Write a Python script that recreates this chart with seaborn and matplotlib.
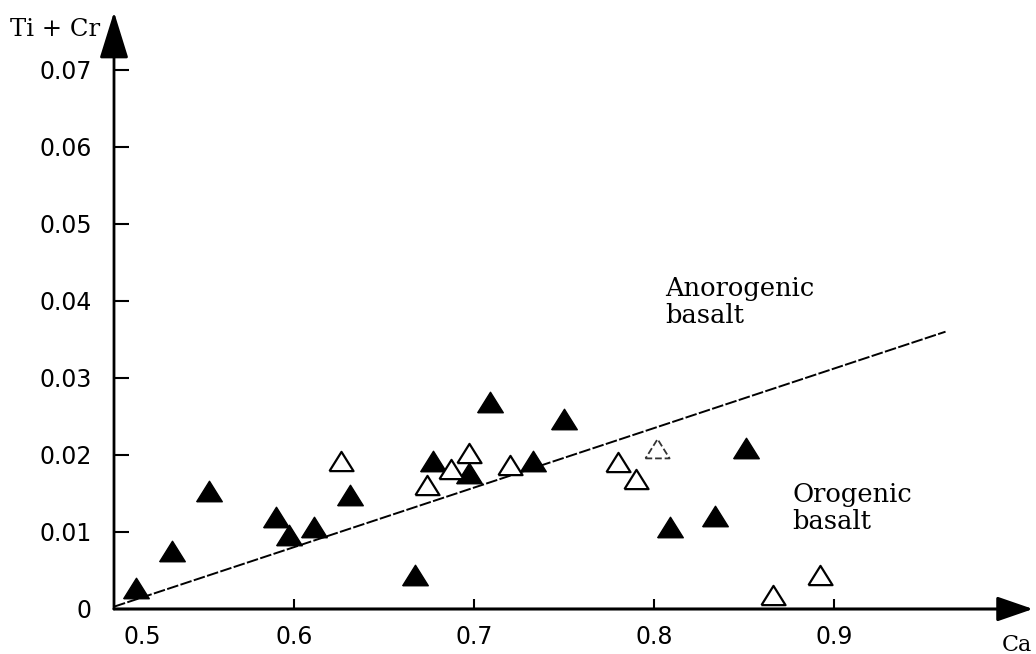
import matplotlib
matplotlib.use("Agg")
import matplotlib.pyplot as plt
from matplotlib.transforms import ScaledTranslation
import seaborn as sns
import pandas as pd

# ---- data ----
filled_ca = [0.512, 0.532, 0.553, 0.590, 0.597, 0.611, 0.631, 0.667, 0.677,
             0.697, 0.709, 0.733, 0.750, 0.809, 0.834, 0.851]
filled_ticr = [0.0027, 0.0075, 0.0153, 0.0119, 0.0096, 0.0106, 0.0148, 0.0044, 0.0192,
               0.0177, 0.0269, 0.0192, 0.0247, 0.0107, 0.0121, 0.0209]
open_ca = [0.626, 0.674, 0.687, 0.697, 0.720, 0.780, 0.790, 0.802, 0.866, 0.892]
open_ticr = [0.0192, 0.0161, 0.0182, 0.0203, 0.0187, 0.0191, 0.0169, 0.0208, 0.0018, 0.0044]
open_faint = [False, False, False, False, False, False, False, True, False, False]

line_ca = [0.500, 0.962]
line_ticr = [0.0003, 0.0360]

x_ticks = [0.5, 0.6, 0.7, 0.8, 0.9]
x_ticklabels = ["0.5", "0.6", "0.7", "0.8", "0.9"]
y_ticks = [0, 0.01, 0.02, 0.03, 0.04, 0.05, 0.06, 0.07]
y_ticklabels = ["0", "0.01", "0.02", "0.03", "0.04", "0.05", "0.06", "0.07"]

x_label = "Ca"
y_label = "Ti + Cr"
region_upper = "Anorogenic\nbasalt"
region_lower = "Orogenic\nbasalt"

# ---- figure ----
sns.set_theme(style="white")
plt.rcParams["font.family"] = ["DejaVu Sans"]
plt.rcParams["text.color"] = "black"

fig = plt.figure(figsize=(10.36, 6.54), dpi=100)
ax = fig.add_axes([114 / 1036, 45 / 654, 919 / 1036, 597 / 654])
ax.set_xlim(0.5, 1.0106)
ax.set_ylim(0, 0.0775)

tri = [(-1, -0.8), (1, -0.8), (0, 0.8), (-1, -0.8)]

df_f = pd.DataFrame({"Ca": filled_ca, "TiCr": filled_ticr})
df_o = pd.DataFrame({"Ca": open_ca, "TiCr": open_ticr, "faint": open_faint})
df_l = pd.DataFrame({"Ca": line_ca, "TiCr": line_ticr})

sns.lineplot(data=df_l, x="Ca", y="TiCr", ax=ax, color="black", linewidth=1.4,
             linestyle=(0, (6, 1.2)), zorder=2)
sns.scatterplot(data=df_f, x="Ca", y="TiCr", ax=ax, marker=tri, s=340,
                color="black", edgecolor="black", linewidth=1.0, zorder=3)
sns.scatterplot(data=df_o[~df_o["faint"]], x="Ca", y="TiCr", ax=ax, marker=tri, s=300,
                color="white", edgecolor="black", linewidth=1.6, zorder=4)
sns.scatterplot(data=df_o[df_o["faint"]], x="Ca", y="TiCr", ax=ax, marker=tri, s=300,
                color="white", edgecolor="#333333", linewidth=1.3, linestyle="--", zorder=4)

# axes with arrows
for s in ax.spines.values():
    s.set_visible(False)
ax.annotate("", xy=(1.0, 0), xytext=(0, 0), xycoords="axes fraction",
            textcoords="axes fraction",
            arrowprops=dict(arrowstyle="-|>,head_length=1.1,head_width=0.38",
                            mutation_scale=20, color="black", lw=2.2,
                            shrinkA=0, shrinkB=0), annotation_clip=False)
ax.annotate("", xy=(0, 1.0), xytext=(0, 0), xycoords="axes fraction",
            textcoords="axes fraction",
            arrowprops=dict(arrowstyle="-|>,head_length=1.45,head_width=0.45",
                            mutation_scale=20, color="black", lw=2.0,
                            shrinkA=0, shrinkB=0), annotation_clip=False)

ax.set_xticks(x_ticks)
ax.set_xticklabels(x_ticklabels)
ax.set_yticks(y_ticks)
ax.set_yticklabels(y_ticklabels)
ax.tick_params(axis="x", direction="in", length=7, width=1.5, pad=11.5,
               labelsize=17, colors="black", bottom=True)
ax.tick_params(axis="y", direction="in", length=11, width=1.5, pad=16,
               labelsize=17, colors="black", left=True)
# first x label sits right of the origin in the reference
xl0 = ax.get_xticklabels()[0]
xl0.set_transform(xl0.get_transform() + ScaledTranslation(0.28, 0, fig.dpi_scale_trans))
xticks = ax.xaxis.get_major_ticks()
xticks[0].tick1line.set_visible(False)
ax.set_xlabel("")
ax.set_ylabel("")
ax.grid(False)

serif = "DejaVu Serif"
fig.text(55 / 1036, 1 - 29 / 654, y_label, ha="center", va="center",
         fontsize=17.5, family=serif, color="black")
fig.text(1017 / 1036, 1 - 651 / 654, x_label, ha="center", va="baseline",
         fontsize=16, family=serif, color="black")
ax.text(0.806, 0.0399, region_upper, ha="left", va="center", fontsize=18.5,
        family=serif, linespacing=1.1, color="black")
ax.text(0.8767, 0.0131, region_lower, ha="left", va="center", fontsize=18.5,
        family=serif, linespacing=1.1, color="black")

fig.savefig("out.png", dpi=100, facecolor="white")
